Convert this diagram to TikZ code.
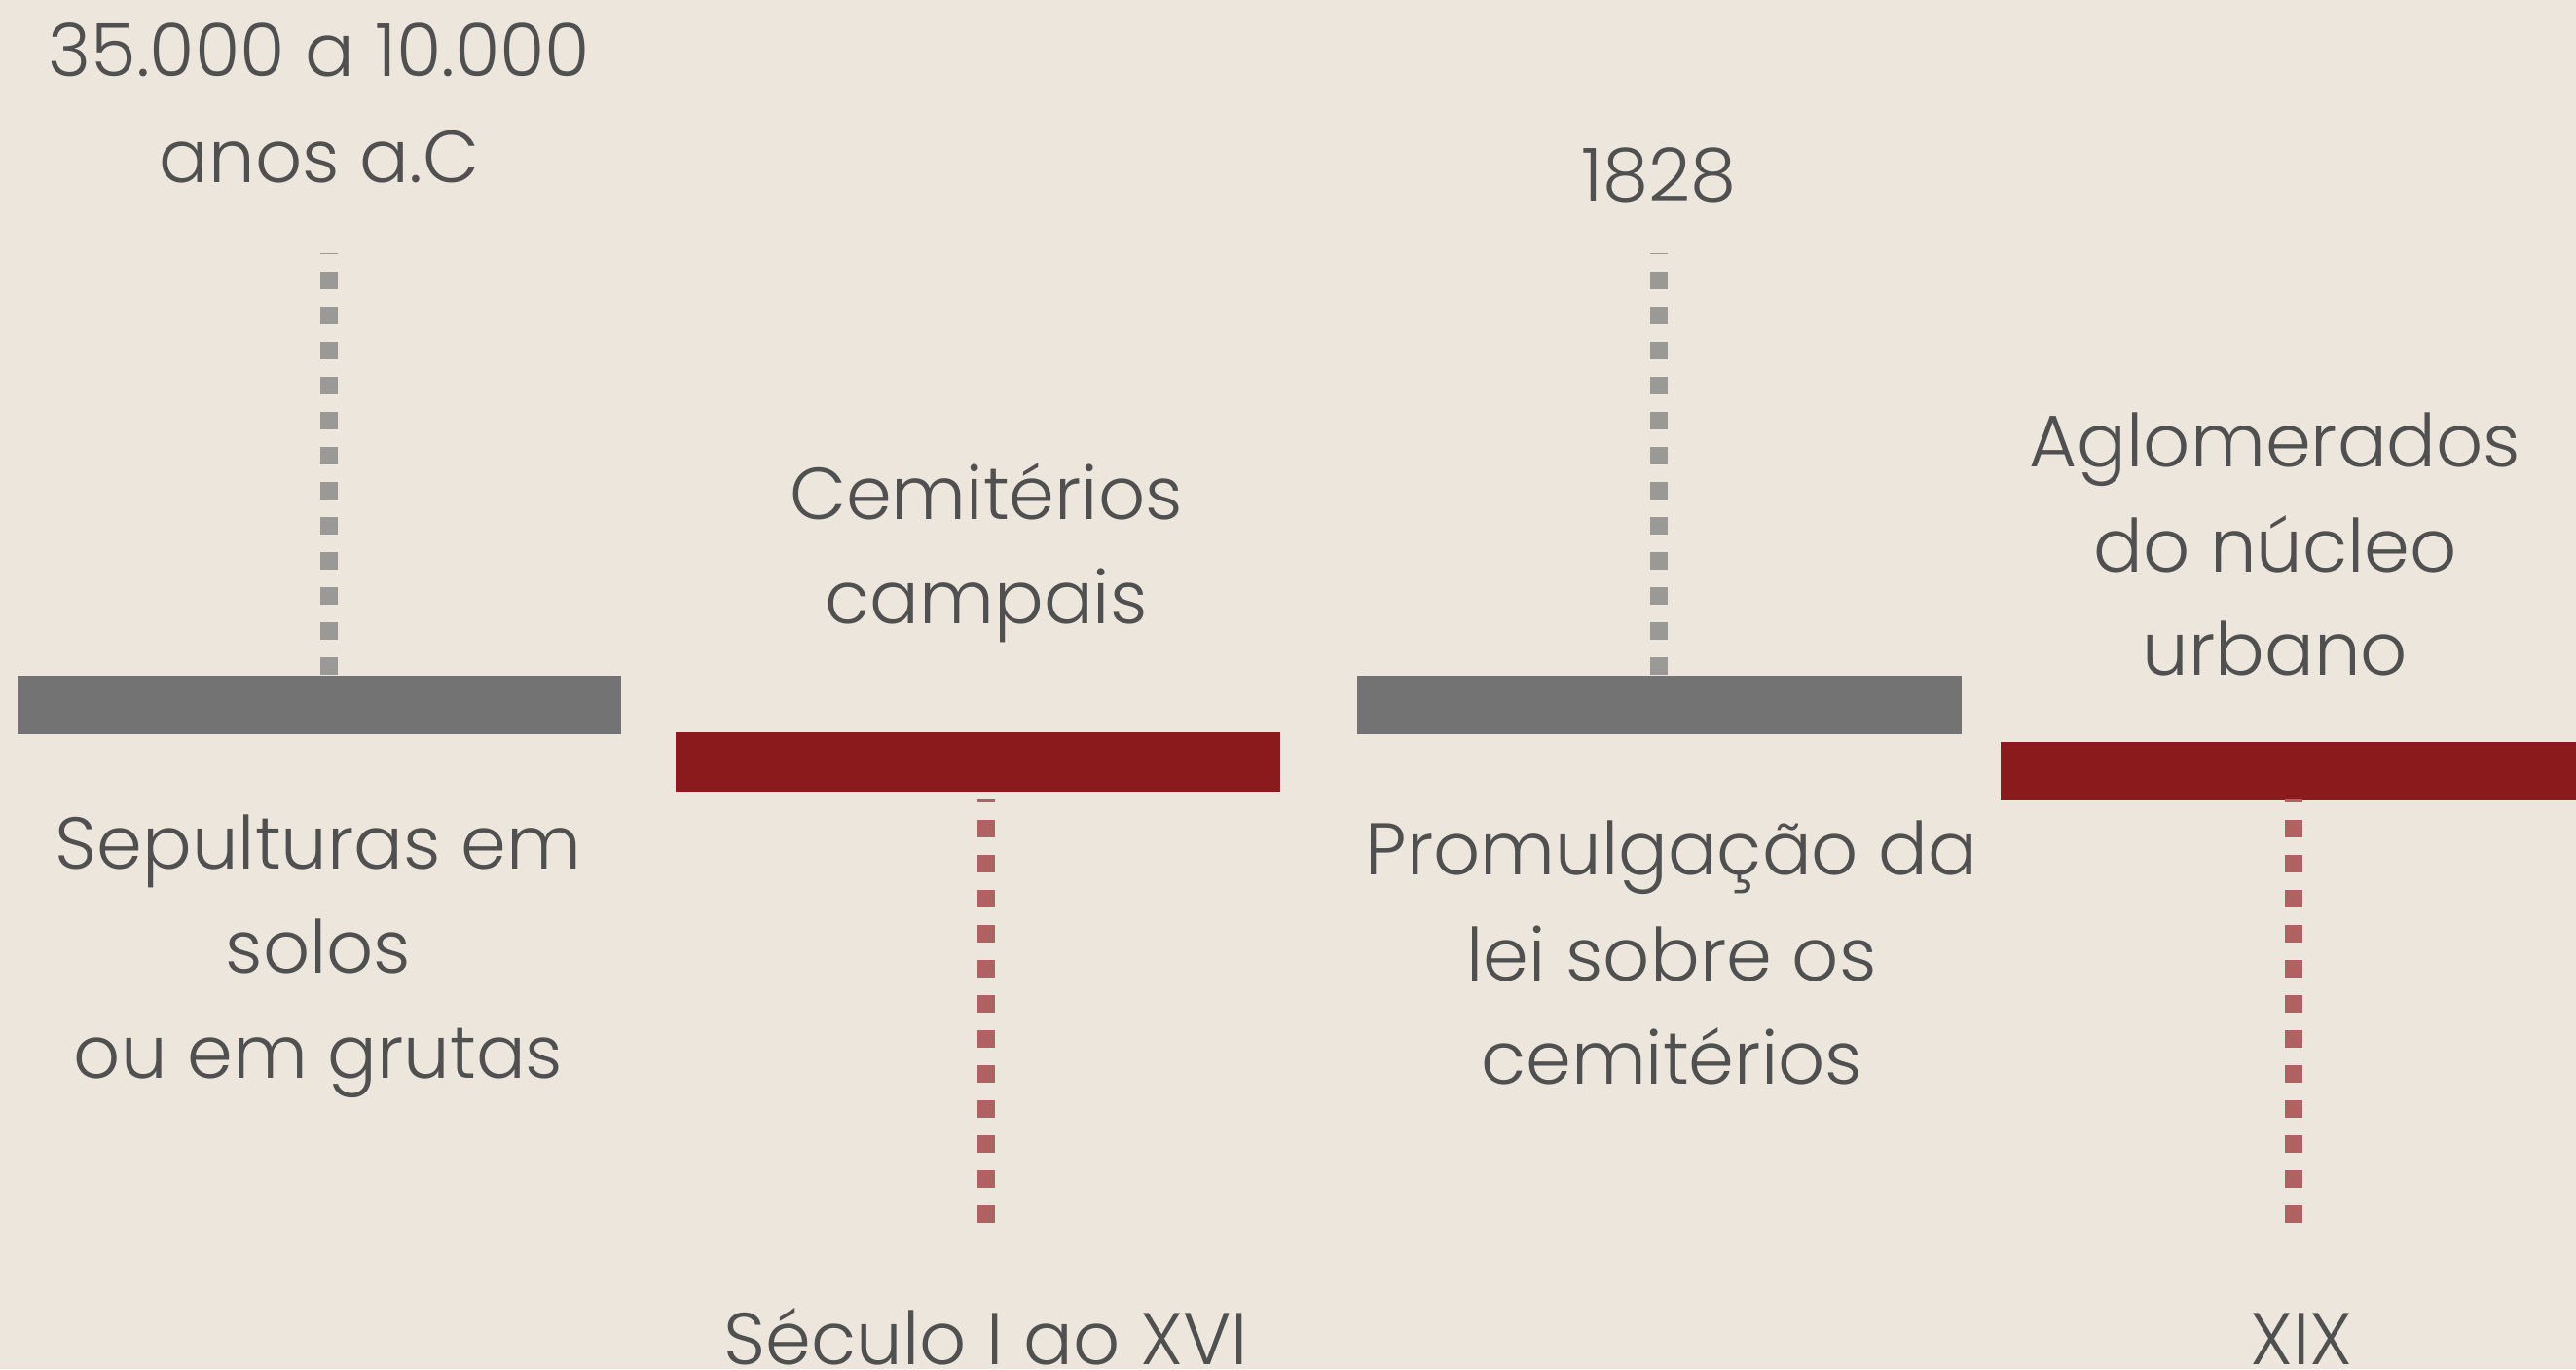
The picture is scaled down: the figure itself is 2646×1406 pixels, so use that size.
\documentclass[tikz,border=0pt]{standalone}
\usepackage{fontspec}
\setmainfont{Poppins}[UprightFont=* Light]
\definecolor{paper}{RGB}{236,230,221}
\definecolor{barGray}{RGB}{115,115,115}
\definecolor{barRed}{RGB}{138,26,27}
\definecolor{dashGray}{RGB}{155,153,150}
\definecolor{dashRed}{RGB}{176,98,98}
\definecolor{ink}{RGB}{80,80,80}
\tikzset{
  lbl/.style={anchor=base, inner sep=0pt, text=ink, font=\fontsize{21.4}{26}\selectfont},
  barbox/.style={rectangle, inner sep=0pt, minimum width=6.2cm, minimum height=0.6cm, draw=none},
  graybar/.style={barbox, fill=barGray},
  redbar/.style={barbox, fill=barRed},
  stem/.style={line width=0.18cm, dash pattern=on 0.18cm off 0.18cm},
  graystem/.style={stem, draw=dashGray},
  redstem/.style={stem, draw=dashRed},
}
\begin{document}
\begin{tikzpicture}[x=0.01cm, y=-0.01cm]
\fill[paper] (0,0) rectangle (2646,1406);
\useasboundingbox (0,0) rectangle (2646,1406);

% stems (drawn first, bars on top)
\coordinate (s1top) at (338,260);
\coordinate (s1bot) at (338,694);
\coordinate (s2top) at (1013,821);
\coordinate (s2bot) at (1013,1256);
\coordinate (s3top) at (1704,260);
\coordinate (s3bot) at (1704,694);
\coordinate (s4top) at (2356,821);
\coordinate (s4bot) at (2356,1256);

% bars
\node[graybar] (bar1) at (328,724) {};
\node[redbar]  (bar2) at (1004.5,782.5) {};
\node[graybar] (bar3) at (1704.5,724) {};
\node[redbar, minimum width=6.0cm, anchor=west] (bar4) at (2054,792) {};

\draw[graystem] (bar1.north -| s1bot) -- (s1top);
\draw[redstem] (s2bot) -- (s2top);
\draw[graystem] (bar3.north -| s3bot) -- (s3top);
\draw[redstem] (s4bot) -- (s4top);

% labels
\node[lbl] (a1) at (328,78) {35.000 a 10.000};
\node[lbl] (a2) at (328,187) {anos a.C};
\node[lbl] (b1) at (327,892) {Sepulturas em};
\node[lbl] (b2) at (327,999) {solos};
\node[lbl] (b3) at (327,1107) {ou em grutas};
\node[lbl] (c1) at (1013,533) {Cemitérios};
\node[lbl] (c2) at (1013,640) {campais};
\node[lbl] (d1) at (1013,1401) {Século I ao XVI};
\node[lbl] (e1) at (1704,206) {1828};
\node[lbl] (f1) at (1717,898) {Promulgação da};
\node[lbl] (f2) at (1717,1007) {lei sobre os};
\node[lbl] (f3) at (1717,1113) {cemitérios};
\node[lbl] (g1) at (2337,479) {Aglomerados};
\node[lbl] (g2) at (2337,587) {do núcleo};
\node[lbl] (g3) at (2337,693) {urbano};
\node[lbl] (h1) at (2364,1401) {XIX};
\end{tikzpicture}
\end{document}
